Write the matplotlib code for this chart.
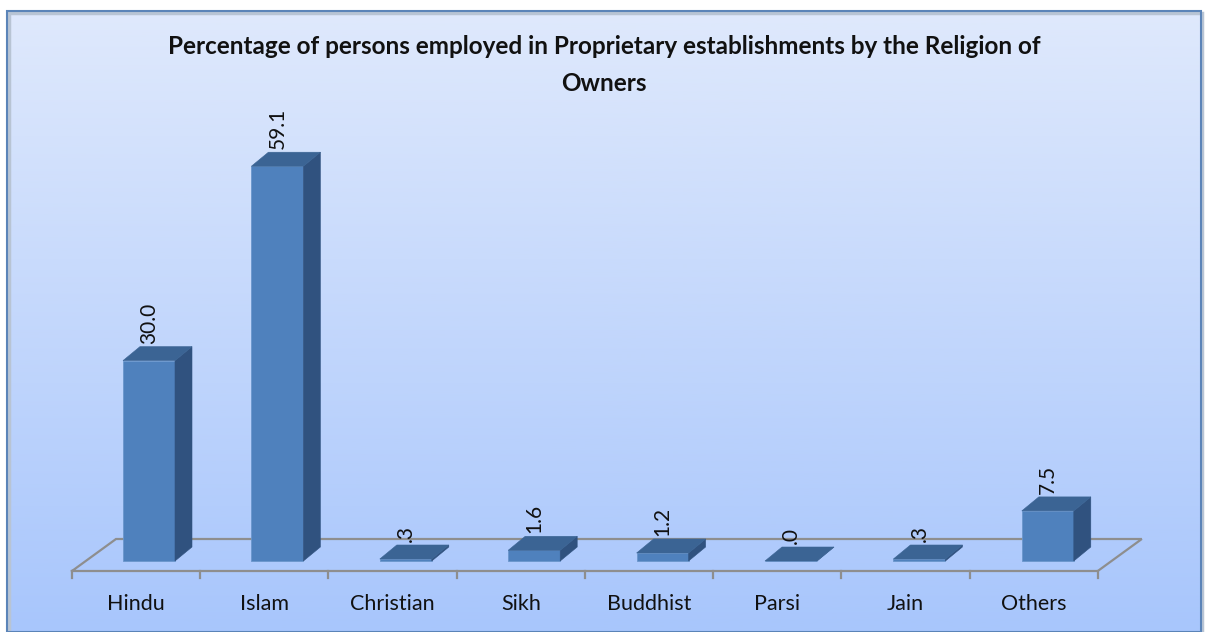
import numpy as np
import matplotlib
matplotlib.use("Agg")
import matplotlib.pyplot as plt
from matplotlib.patches import Rectangle, Polygon
from matplotlib.colors import LinearSegmentedColormap

categories = ["Hindu", "Islam", "Christian", "Sikh", "Buddhist", "Parsi", "Jain", "Others"]
values = [30.0, 59.1, 0.3, 1.6, 1.2, 0.0, 0.3, 7.5]
value_labels = [f"{v:.1f}".lstrip("0") if v < 1 else f"{v:.1f}" for v in values]
title = "Percentage of persons employed in Proprietary establishments by the Religion of\nOwners"

W, H = 1208, 632
DPI = 100
plt.rcParams['font.family'] = ['Lato', 'DejaVu Sans']

fig = plt.figure(figsize=(W / DPI, H / DPI), dpi=DPI)

# background gradient + border
bg = fig.add_axes([0, 0, 1, 1])
bg.set_xlim(0, W)
bg.set_ylim(H, 0)
bg.axis("off")
cmap = LinearSegmentedColormap.from_list("bg", ["#DFE9FC", "#A8C6FC"])
grad = np.linspace(0, 1, 256).reshape(-1, 1)
bg.imshow(grad, cmap=cmap, extent=(7, 1201, 631, 11), aspect="auto", zorder=0)
bg.add_patch(Rectangle((9, 13), 1193, 620, fill=False, edgecolor="#B8C4D4", lw=2.5, zorder=1))
bg.add_patch(Rectangle((7, 11), 1194, 621, fill=False, edgecolor="#5B84B8", lw=1.5, zorder=2))

# main data axes spanning the figure
ax = fig.add_axes([0, 0, 1, 1])
ax.patch.set_alpha(0)
ax.axis("off")
x0_px, step_px = 149.0, 128.4
zero_px, unit_px = 561.0, 6.68
xlim = (-x0_px / step_px, (W - x0_px) / step_px)
ylim = (-(H - zero_px) / unit_px, zero_px / unit_px)
ax.set_xlim(*xlim)
ax.set_ylim(*ylim)
pxx = (xlim[1] - xlim[0]) / W
pxy = (ylim[1] - ylim[0]) / H

n = len(categories)
xs = np.arange(n)
bw = 52 * pxx
ddx, ddy = 17 * pxx, 14 * pxy

# floor
floor_c = "#8E8E8E"
fx0 = xs[0] - 77 * pxx
fx1 = xs[-1] + 50 * pxx
fy = -10 * pxy
fdx, fdy = 44 * pxx, 32 * pxy
ax.plot([fx0, fx1, fx1 + fdx, fx0 + fdx, fx0], [fy, fy, fy + fdy, fy + fdy, fy],
        color=floor_c, lw=1.6, zorder=1, solid_joinstyle="miter")
slot = (fx1 - fx0) / n
for k in range(n + 1):
    tx = fx0 + k * slot
    ax.plot([tx, tx], [fy, fy - 7 * pxy], color=floor_c, lw=1.6, zorder=1)
for k, cat in enumerate(categories):
    ax.text(fx0 + (k + 0.5) * slot, fy - 33 * pxy, cat, ha="center", va="center",
            fontsize=15.5, color="#111111")

front_c, side_c, top_c = "#4F81BD", "#30527F", "#3B6494"
for i, v in zip(xs, values):
    l, r = i - bw / 2, i + bw / 2
    ax.add_patch(Rectangle((l, 0), bw, v, facecolor=front_c, edgecolor="#6A96CC", lw=0.6, zorder=3))
    ax.add_patch(Polygon([(r, 0), (r + ddx, ddy), (r + ddx, v + ddy), (r, v)],
                         closed=True, facecolor=side_c, edgecolor=side_c, lw=0.4, zorder=3))
    ax.add_patch(Polygon([(l, v), (r, v), (r + ddx, v + ddy), (l + ddx, v + ddy)],
                         closed=True, facecolor=top_c, edgecolor=top_c, lw=0.4, zorder=3))

for i, v, lab in zip(xs, values, value_labels):
    ax.text(i, v + ddy + 3 * pxy, lab, rotation=90, ha="center", va="bottom",
            fontsize=15, color="#111111", zorder=4)

fig.text(604 / W, 1 - 65 / H, title, ha="center", va="center", fontsize=17.5,
         fontweight="bold", color="#111111", linespacing=1.7)

fig.savefig("out.png", dpi=DPI)
